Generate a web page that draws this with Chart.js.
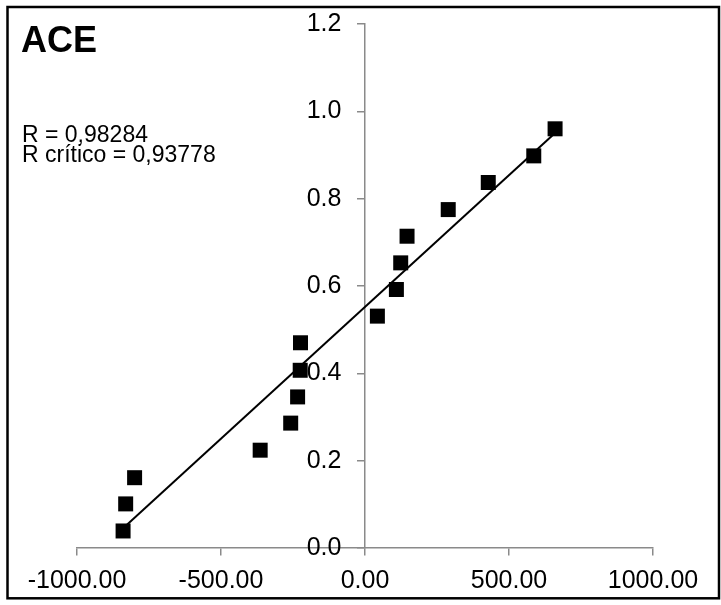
<!DOCTYPE html>
<html>
<head>
<meta charset="utf-8">
<script src="https://cdn.jsdelivr.net/npm/chart.js@4"></script>
<style>
  body { margin: 0; background: #fff; }
  #wrap { position: relative; width: 721px; height: 605px; }
</style>
</head>
<body>
<div id="wrap"><canvas id="aceChart" width="721" height="605"></canvas></div>
<script>
// ACE values (x) vs. cumulative probability (y)
const aceValues = [-840, -831, -800, -364, -258, -234, -225, -224, 43, 109, 124, 146, 289, 428, 586, 660];
const probValues = [0.039, 0.101, 0.161, 0.224, 0.286, 0.346, 0.407, 0.470, 0.531, 0.592, 0.653, 0.714, 0.775, 0.837, 0.898, 0.960];
const xTicks = [-1000, -500, 0, 500, 1000];
const yTicks = [0, 0.2, 0.4, 0.6, 0.8, 1.0, 1.2];
const titleText = 'ACE';
const statLines = ['R = 0,98284', 'R crítico = 0,93778'];

const points = aceValues.map((v, i) => ({ x: v, y: probValues[i] }));

// least squares trendline over the data range
function trendline(xs, ys) {
  const n = xs.length;
  const mx = xs.reduce((a, b) => a + b, 0) / n;
  const my = ys.reduce((a, b) => a + b, 0) / n;
  let sxy = 0, sxx = 0;
  for (let i = 0; i < n; i++) {
    sxy += (xs[i] - mx) * (ys[i] - my);
    sxx += (xs[i] - mx) * (xs[i] - mx);
  }
  const slope = sxy / sxx;
  const icpt = my - slope * mx;
  const x0 = Math.min(...xs), x1 = Math.max(...xs);
  return [{ x: x0, y: icpt + slope * x0 }, { x: x1, y: icpt + slope * x1 }];
}

const axisGray = '#8a8a8a';
const font = 'Liberation Sans, Arial, sans-serif';

const frame = {
  id: 'frame',
  beforeDraw(chart) {
    const ctx = chart.ctx;
    ctx.save();
    ctx.fillStyle = '#fff';
    ctx.fillRect(0, 0, chart.width, chart.height);
    ctx.restore();
  },
  afterDraw(chart) {
    const ctx = chart.ctx;
    ctx.save();
    ctx.strokeStyle = '#000';
    ctx.lineWidth = 2.5;
    ctx.strokeRect(7.5, 7, 711.5, 591.3);
    ctx.fillStyle = '#000';
    ctx.textBaseline = 'alphabetic';
    ctx.textAlign = 'left';
    ctx.font = 'bold 36px ' + font;
    ctx.fillText(titleText, 21, 52);
    ctx.font = '23px ' + font;
    statLines.forEach((t, i) => ctx.fillText(t, 22, 142 + i * 20));
    ctx.restore();
  }
};

const yRange = { min: 0, max: 1.2 };

new Chart(document.getElementById('aceChart').getContext('2d'), {
  type: 'scatter',
  data: {
    datasets: [{
      data: points,
      order: 0,
      pointStyle: 'rect',
      pointRadius: 10.6,
      pointHoverRadius: 10.6,
      pointBorderWidth: 0,
      backgroundColor: '#000',
      borderColor: '#000'
    }, {
      type: 'line',
      data: trendline(aceValues, probValues),
      order: 1,
      borderColor: '#000',
      borderWidth: 2,
      pointRadius: 0,
      fill: false
    }]
  },
  options: {
    responsive: false,
    animation: false,
    devicePixelRatio: 1,
    layout: { padding: { left: 77, right: 68, top: 24, bottom: 57 } },
    plugins: { legend: { display: false }, tooltip: { enabled: false } },
    scales: {
      x: {
        type: 'linear',
        axis: 'x',
        position: { y: 0 },
        min: -1000,
        max: 1000,
        afterBuildTicks: (s) => { s.ticks = xTicks.map(v => ({ value: v })); },
        ticks: {
          color: '#000',
          font: { family: font, size: 25 },
          padding: 11,
          maxRotation: 0,
          callback: (v) => v.toFixed(2)
        },
        grid: { drawOnChartArea: false, drawTicks: true, tickLength: 7, color: axisGray, lineWidth: 1.5 },
        border: { display: true, color: axisGray, width: 1.5 }
      },
      // axis line and tick marks at x = 0
      y: {
        type: 'linear',
        axis: 'y',
        position: { x: 0 },
        ...yRange,
        afterBuildTicks: (s) => { s.ticks = yTicks.map(v => ({ value: v })); },
        ticks: { display: false },
        grid: { drawOnChartArea: false, drawTicks: true, tickLength: 7, color: axisGray, lineWidth: 1.5 },
        border: { display: true, color: axisGray, width: 1.5 }
      },
      // tick labels, set a little left of the axis
      yLabels: {
        type: 'linear',
        axis: 'y',
        position: { x: -82 },
        ...yRange,
        afterBuildTicks: (s) => { s.ticks = yTicks.map(v => ({ value: v })); },
        ticks: {
          color: '#000',
          font: { family: font, size: 25 },
          callback: (v) => v.toFixed(1)
        },
        grid: { display: false },
        border: { display: false }
      }
    }
  },
  plugins: [frame]
});
</script>
</body>
</html>
